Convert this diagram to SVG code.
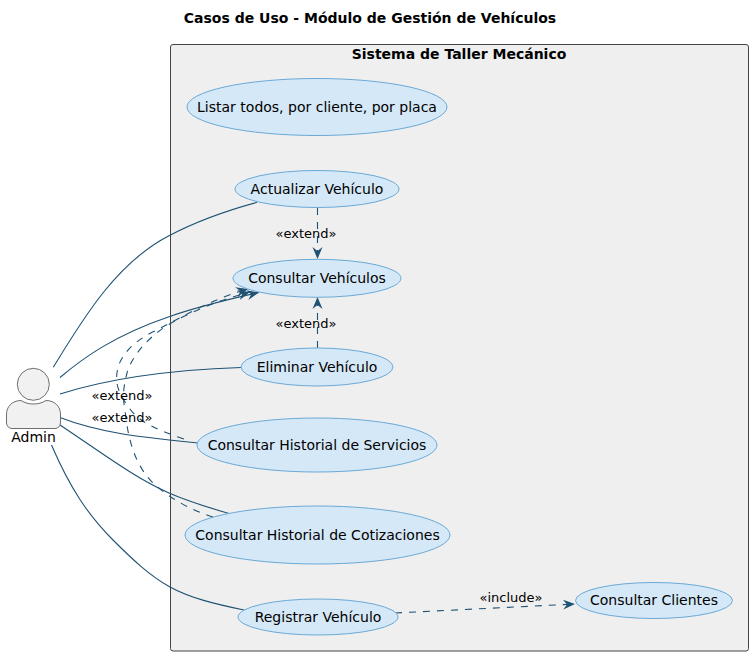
<svg xmlns="http://www.w3.org/2000/svg" width="752" height="656" viewBox="0 0 752 656">
<style>
text{font-family:"DejaVu Sans",sans-serif;fill:#000}
.t{font-size:14px;text-anchor:middle}
.b{font-size:14px;font-weight:bold;text-anchor:middle}
.l{font-size:13px;text-anchor:middle}
ellipse{fill:#D5E8F7;stroke:#6AA9D6;stroke-width:1}
.c{fill:none;stroke:#1F5273;stroke-width:1.1}
.d{stroke-dasharray:7,7}
.h{marker-end:url(#a)}
</style>
<defs>
<marker id="a" markerUnits="userSpaceOnUse" markerWidth="14" markerHeight="14" refX="12" refY="6" orient="auto">
<path d="M0,1L12,6L0,11L4,6Z" fill="#1F5273"/>
</marker>
</defs>
<rect width="752" height="656" fill="#fff"/>
<text x="370" y="23" class="b">Casos de Uso - Módulo de Gestión de Vehículos</text>
<g id="system">
<rect x="170.500" y="44.500" width="578" height="606.500" rx="2.500" fill="#EFEFEF" stroke="#444" stroke-width="1"/>
<text x="459" y="59" class="b">Sistema de Taller Mecánico</text>
</g>
<g id="connectors">
<path class="c" d="M53.300,367.300C85,315 118,262 169,235.700C195,222 225,211 257,202.300"/>
<path class="c h" d="M60,377.500C83,358 115,335 169,316.700C200,306 230,299 259,292.500"/>
<path class="c" d="M60,394C110,378 170,370 241,367.500"/>
<path class="c" d="M60,417.500C100,433 140,437 198,443"/>
<path class="c" d="M60,425C105,455 135,478 169,493C185,500 210,508 229,513.500"/>
<path class="c" d="M51.500,445C70,488 88,515 113,540C133,560 150,576 170,587C190,598 215,604 244,610"/>
<path class="c d h" d="M184,439C160,431 140,423 130,409C120,396 115,385 117,373C119,355 135,340 157,330C185,315 215,298 248,289"/>
<path class="c d h" d="M213,517C190,510 168,497 153,483C135,465 128,440 125,410C122,395 124,385 127,373C132,355 150,335 173,322C195,310 220,300 250,292"/>
<path class="c d h" d="M317.500,208V259"/>
<path class="c d h" d="M317.500,348V297"/>
<path class="c d h" d="M395,613L575,604"/>
</g>
<g id="actor-admin">
<circle cx="33.300" cy="384.300" r="16" fill="#F1F1F1" stroke="#6F6F6F" stroke-width="1"/>
<path d="M6.500,414C6.500,407 12,400.500 21,400.500C25,403 29,404 33.500,404C38,404 42,403 46,400.500C55,400.500 60.500,407 60.500,414V423C60.500,426 58,428.500 55,428.500H12C9,428.500 6.500,426 6.500,423Z" fill="#F1F1F1" stroke="#6F6F6F" stroke-width="1"/>
<text x="33.500" y="442" class="t">Admin</text>
</g>
<g id="uc-listar"><ellipse cx="317" cy="107" rx="130" ry="28.500"/><text x="317" y="112" class="t">Listar todos, por cliente, por placa</text></g>
<g id="uc-actualizar"><ellipse cx="317" cy="189" rx="82" ry="18.500"/><text x="317" y="194" class="t">Actualizar Vehículo</text></g>
<g id="uc-consultar"><ellipse cx="317" cy="278.300" rx="84" ry="19"/><text x="317" y="283" class="t">Consultar Vehículos</text></g>
<g id="uc-eliminar"><ellipse cx="317" cy="367" rx="76" ry="19"/><text x="317" y="372" class="t">Eliminar Vehículo</text></g>
<g id="uc-servicios"><ellipse cx="317" cy="445" rx="120" ry="27"/><text x="317" y="450" class="t">Consultar Historial de Servicios</text></g>
<g id="uc-cotizaciones"><ellipse cx="317.500" cy="535" rx="132.500" ry="29"/><text x="317.500" y="540" class="t">Consultar Historial de Cotizaciones</text></g>
<g id="uc-registrar"><ellipse cx="318" cy="617" rx="80" ry="18"/><text x="318" y="622" class="t">Registrar Vehículo</text></g>
<g id="uc-clientes"><ellipse cx="654" cy="600.500" rx="78.500" ry="18"/><text x="654" y="605" class="t">Consultar Clientes</text></g>
<g id="labels">
<text x="306" y="238" class="l">«extend»</text>
<text x="306" y="328" class="l">«extend»</text>
<text x="122" y="400" class="l">«extend»</text>
<text x="122" y="422" class="l">«extend»</text>
<text x="511" y="602" class="l">«include»</text>
</g>
</svg>
